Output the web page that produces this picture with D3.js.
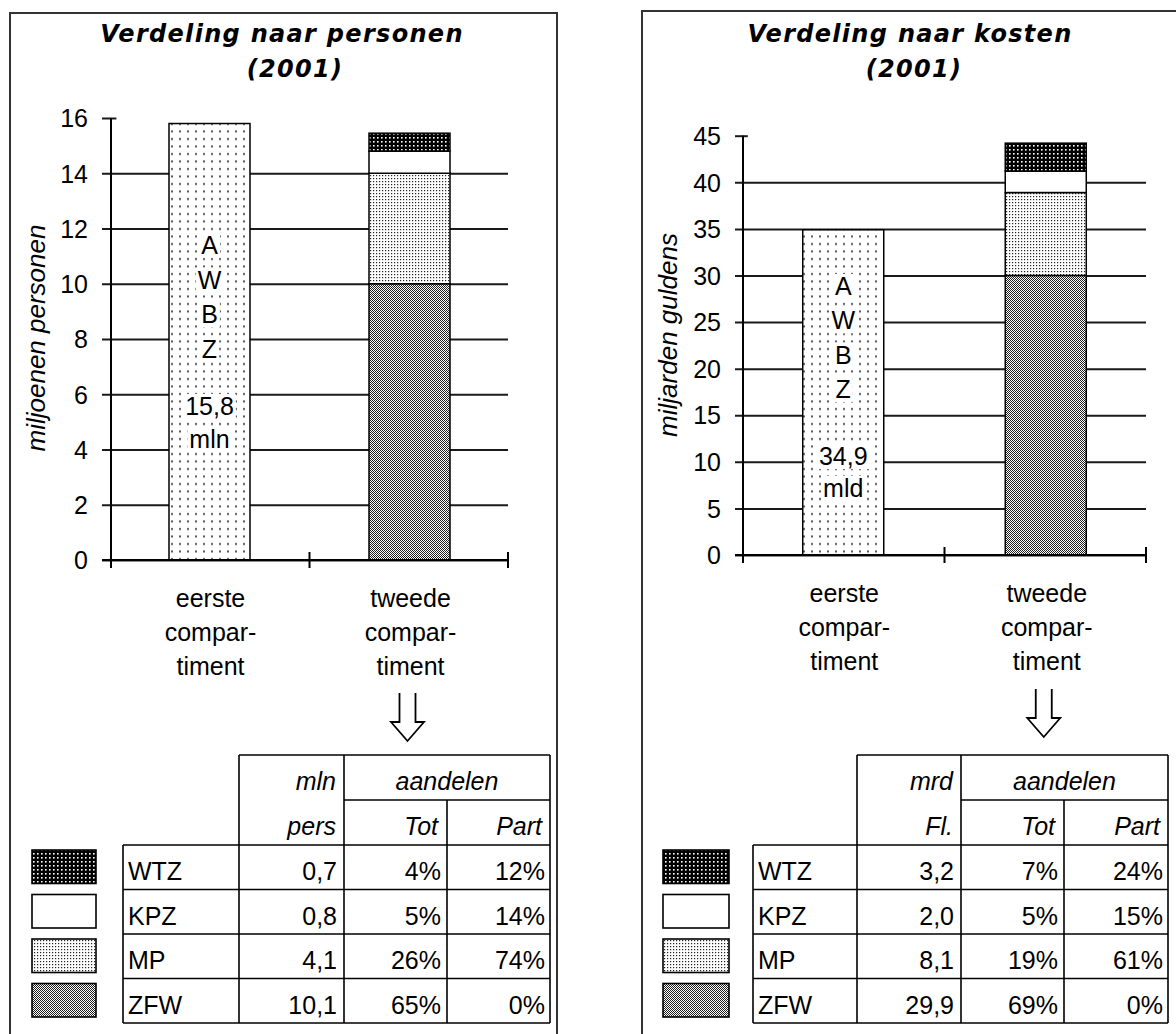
<!DOCTYPE html>
<html><head><meta charset="utf-8">
<script src="https://cdn.jsdelivr.net/npm/d3@7"></script>
<style>
body{margin:0;background:#fff}
svg{display:block}
</style>
</head><body>
<svg id="c" width="1176" height="1034"></svg>
<script>
// ---------- data ----------
const categories = ["eerste compartiment", "tweede compartiment"];
const categoryLines = [["eerste", "compar-", "timent"], ["tweede", "compar-", "timent"]];
const seriesNames = ["WTZ", "KPZ", "MP", "ZFW"];          // table / legend order
const stackOrder = ["ZFW", "MP", "KPZ", "WTZ"];           // bottom -> top
const awbzLetters = ["A", "W", "B", "Z"];

// persons panel
const personsTitle = ["Verdeling naar personen", "(2001)"];
const personsAxisTitle = "miljoenen personen";
const personsTicks = [0, 2, 4, 6, 8, 10, 12, 14, 16];
const personsAwbz = 15.8;
const personsAwbzLabel = ["15,8", "mln"];
const personsSegments = [10.0, 4.0, 0.8, 0.65];         // ZFW, MP, KPZ, WTZ as drawn
const personsUnit = ["mln", "pers"];
const personsValues = ["0,7", "0,8", "4,1", "10,1"];
const personsTot = ["4%", "5%", "26%", "65%"];
const personsPart = ["12%", "14%", "74%", "0%"];

// costs panel
const costsTitle = ["Verdeling naar kosten", "(2001)"];
const costsAxisTitle = "miljarden guldens";
const costsTicks = [0, 5, 10, 15, 20, 25, 30, 35, 40, 45];
const costsAwbz = 34.9;
const costsAwbzLabel = ["34,9", "mld"];
const costsSegments = [30.0, 8.9, 2.3, 3.0];              // ZFW, MP, KPZ, WTZ as drawn
const costsUnit = ["mrd", "Fl."];
const costsValues = ["3,2", "2,0", "8,1", "29,9"];
const costsTot = ["7%", "5%", "19%", "69%"];
const costsPart = ["24%", "15%", "61%", "0%"];

const shareHeader = "aandelen";
const shareCols = ["Tot", "Part"];

// ---------- setup ----------
const FONT = "Arial, 'Liberation Sans', Helvetica, sans-serif";
const TITLE_FONT = "'DejaVu Sans', Verdana, sans-serif";
const svg = d3.select("#c");
const defs = svg.append("defs");

function makePattern(id, w, h, bg, dots) {
  const p = defs.append("pattern").attr("id", id).attr("patternUnits", "userSpaceOnUse")
    .attr("width", w).attr("height", h);
  p.append("rect").attr("width", w).attr("height", h).attr("fill", bg);
  dots.forEach(dot => p.append("rect").attr("x", dot.x).attr("y", dot.y)
    .attr("width", dot.w).attr("height", dot.h).attr("fill", dot.c));
}
makePattern("p-awbz", 8, 7.5, "#fff", [{x: 3, y: 3, w: 2, h: 2, c: "#555"}]);
makePattern("p-zfw", 2, 2, "#fff", [{x: 0, y: 0, w: 1, h: 1, c: "#1e1e1e"}, {x: 1, y: 1, w: 1, h: 1, c: "#1e1e1e"}]);
makePattern("p-mp", 3, 3, "#fff", [{x: 1, y: 1, w: 1.2, h: 1.2, c: "#222"}]);
makePattern("p-wtz", 4, 4, "#000", [{x: 1, y: 1, w: 1.6, h: 1.6, c: "#fff"}]);
const fills = {ZFW: "url(#p-zfw)", MP: "url(#p-mp)", KPZ: "#fff", WTZ: "url(#p-wtz)"};

function drawPanel(cfg) {
  const g = svg.append("g");
  // panel border
  g.append("rect").attr("x", cfg.panel.x).attr("y", cfg.panel.y)
    .attr("width", cfg.panel.w).attr("height", 1100)
    .attr("fill", "none").attr("stroke", "#333").attr("stroke-width", 2);

  // title
  cfg.title.forEach((t, i) => {
    g.append("text").attr("x", cfg.titlePos[i][0]).attr("y", cfg.titlePos[i][1])
      .attr("text-anchor", "middle").attr("font-family", TITLE_FONT)
      .attr("font-weight", "bold").attr("font-style", "italic")
      .attr("font-size", 24).attr("letter-spacing", "1.3px").text(t);
  });

  const L = cfg.layout;
  const y = d3.scaleLinear().domain([0, d3.max(cfg.ticks)]).range([L.y0, L.yTop]);
  const x = d3.scaleBand().domain(categories).range([L.x0, L.x1])
    .paddingInner(L.padIn).paddingOuter(L.padOut);

  // gridlines + tick labels via axis
  const ax = g.append("g").attr("transform", `translate(${L.x1},0)`)
    .call(d3.axisLeft(y).tickValues(cfg.ticks).tickFormat(d3.format("d"))
      .tickSize(L.x1 - L.tickLeft).tickPadding(L.tickLeft - L.labelRight));
  ax.select(".domain").remove();
  ax.selectAll(".tick line").attr("stroke", "#1a1a1a").attr("stroke-width", 2);
  ax.selectAll(".tick text").attr("font-family", FONT).attr("font-size", 25).attr("fill", "#000").attr("dy", "0.35em");
  const top = d3.max(cfg.ticks);
  ax.selectAll(".tick").filter(d => d === top).select("line")
    .attr("x2", -(L.x1 - L.tickLeft)).attr("x1", -(L.x1 - L.x0) + (L.x0 - L.tickLeft) * 0.6);

  // axis title
  g.append("text").attr("transform", `translate(${L.titleX},${L.titleY}) rotate(-90)`)
    .attr("text-anchor", "middle").attr("dy", "0.35em")
    .attr("font-family", FONT).attr("font-style", "italic").attr("font-size", 26)
    .text(cfg.axisTitle);

  // first bar (AWBZ)
  const c0 = categories[0], c1 = categories[1];
  g.append("rect").attr("x", x(c0)).attr("y", y(cfg.awbz))
    .attr("width", x.bandwidth()).attr("height", y(0) - y(cfg.awbz))
    .attr("fill", "url(#p-awbz)").attr("stroke", "#000").attr("stroke-width", 1.5);

  // stacked second bar
  const row = {};
  stackOrder.forEach((k, i) => row[k] = cfg.segments[i]);
  const stacked = d3.stack().keys(stackOrder)([row]);
  g.selectAll(".seg").data(stacked).enter().append("rect")
    .attr("x", x(c1)).attr("width", x.bandwidth())
    .attr("y", d => y(d[0][1])).attr("height", d => y(d[0][0]) - y(d[0][1]))
    .attr("fill", d => fills[d.key]).attr("stroke", "#000").attr("stroke-width", 1.5);

  // y axis line and x axis with ticks
  g.append("line").attr("x1", L.x0).attr("x2", L.x0).attr("y1", y(top)).attr("y2", L.y0 + 8)
    .attr("stroke", "#000").attr("stroke-width", 2);
  g.append("line").attr("x1", L.tickLeft).attr("x2", L.x1).attr("y1", L.y0).attr("y2", L.y0)
    .attr("stroke", "#000").attr("stroke-width", 2);
  const bounds = [L.x0, x(c1) - x.step() * x.paddingInner() / 2, L.x1];
  bounds.forEach((bx, i) => {
    g.append("line").attr("x1", bx).attr("x2", bx).attr("y1", i === 0 ? L.y0 : L.y0 - 8).attr("y2", L.y0 + 8)
      .attr("stroke", "#000").attr("stroke-width", 2);
  });

  // text inside AWBZ bar
  const cx0 = x(c0) + x.bandwidth() / 2;
  const barLines = awbzLetters.map((t, i) => ({t, y: L.letterY + i * L.letterStep}))
    .concat(cfg.awbzLabel.map((t, i) => ({t, y: L.numY + i * L.numStep})));
  barLines.forEach(d => {
    const t = g.append("text").attr("x", cx0).attr("y", d.y).attr("text-anchor", "middle")
      .attr("font-family", FONT).attr("font-size", 25).text(d.t);
    const bb = t.node().getBBox();
    g.insert("rect", () => t.node()).attr("x", bb.x - 2).attr("y", bb.y + 2)
      .attr("width", bb.width + 4).attr("height", bb.height - 3).attr("fill", "#fff");
  });

  // category labels
  categories.forEach((c, ci) => {
    categoryLines[ci].forEach((t, li) => {
      g.append("text").attr("x", x(c) + x.bandwidth() / 2 + 1).attr("y", L.y0 + L.catY + li * L.catStep)
        .attr("text-anchor", "middle").attr("font-family", FONT).attr("font-size", 25).text(t);
    });
  });

  // arrow
  const ax0 = x(c1) + x.bandwidth() / 2 - 2;
  g.append("path")
    .attr("d", `M${ax0 - 8},${L.arrowTop} V${L.arrowTop + 29} H${ax0 - 16.5} L${ax0},${L.arrowTop + 48} L${ax0 + 16.5},${L.arrowTop + 29} H${ax0 + 8} V${L.arrowTop}`)
    .attr("fill", "none").attr("stroke", "#000").attr("stroke-width", 1.8);

  // table
  const T = cfg.table;
  const C = T.cols;
  const hy = T.hy;
  const rowY = i => hy[2] + i * T.rowH;
  const bottom = rowY(seriesNames.length);
  const ln = (x1, y1, x2, y2) => g.append("line").attr("x1", x1).attr("y1", y1).attr("x2", x2).attr("y2", y2)
    .attr("stroke", "#000").attr("stroke-width", 1.6);
  ln(C[1], hy[0], C[4], hy[0]);
  ln(C[2], hy[1], C[4], hy[1]);
  for (let i = 0; i <= seriesNames.length; i++) ln(C[0], rowY(i), C[4], rowY(i));
  ln(C[0], hy[2], C[0], bottom);
  ln(C[1], hy[0], C[1], bottom);
  ln(C[2], hy[0], C[2], bottom);
  ln(C[3], hy[1], C[3], bottom);
  ln(C[4], hy[0], C[4], bottom);

  const txt = (x, yy, s, anchor, italic) => g.append("text").attr("x", x).attr("y", yy)
    .attr("text-anchor", anchor).attr("font-family", FONT).attr("font-size", 25)
    .attr("font-style", italic ? "italic" : "normal").text(s);
  txt(C[2] - 8, hy[1] - 10, cfg.unit[0], "end", true);
  txt(C[2] - 8, hy[2] - 10, cfg.unit[1], "end", true);
  txt((C[2] + C[4]) / 2, hy[1] - 10, shareHeader, "middle", true);
  txt(C[3] - 9, hy[2] - 10, shareCols[0], "end", true);
  txt(C[4] - 8, hy[2] - 10, shareCols[1], "end", true);

  seriesNames.forEach((s, i) => {
    const by = rowY(i + 1) - 9.5;
    txt(C[0] + 5, by, s, "start", false);
    txt(C[2] - 7, by, cfg.values[i], "end", false);
    txt(C[3] - 6, by, cfg.tot[i], "end", false);
    txt(C[4] - 5, by, cfg.part[i], "end", false);
    // legend swatch
    g.append("rect").attr("x", T.legX).attr("y", rowY(i) + 5).attr("width", T.legW).attr("height", T.rowH - 11)
      .attr("fill", fills[s]).attr("stroke", "#000").attr("stroke-width", 1.6);
  });
}

drawPanel({
  panel: {x: 10, y: 13, w: 547},
  title: personsTitle, titlePos: [[282, 42], [295, 77]],
  axisTitle: personsAxisTitle, ticks: personsTicks,
  awbz: personsAwbz, awbzLabel: personsAwbzLabel, segments: personsSegments,
  unit: personsUnit, values: personsValues, tot: personsTot, part: personsPart,
  layout: {x0: 111, x1: 508, y0: 560, yTop: 118, tickLeft: 102, labelRight: 88,
    padIn: 0.595, padOut: 0.29, titleX: 36, titleY: 338,
    letterY: 254, letterStep: 34.7, numY: 415, numStep: 33,
    catY: 47, catStep: 34, arrowTop: 693},
  table: {cols: [123, 239, 344, 447, 550], hy: [755, 800, 845], rowH: 44.5, legX: 32, legW: 64}
});

drawPanel({
  panel: {x: 642, y: 11, w: 600},
  title: costsTitle, titlePos: [[910, 42], [914, 77]],
  axisTitle: costsAxisTitle, ticks: costsTicks,
  awbz: costsAwbz, awbzLabel: costsAwbzLabel, segments: costsSegments,
  unit: costsUnit, values: costsValues, tot: costsTot, part: costsPart,
  layout: {x0: 743, x1: 1146, y0: 555, yTop: 135.7, tickLeft: 735, labelRight: 721,
    padIn: 0.6, padOut: 0.295, titleX: 668, titleY: 335,
    letterY: 295, letterStep: 34.3, numY: 465, numStep: 32,
    catY: 47, catStep: 34, arrowTop: 689},
  table: {cols: [753, 857, 961, 1064, 1168], hy: [755, 800, 845], rowH: 44.5, legX: 663, legW: 66}
});
</script>
</body></html>
